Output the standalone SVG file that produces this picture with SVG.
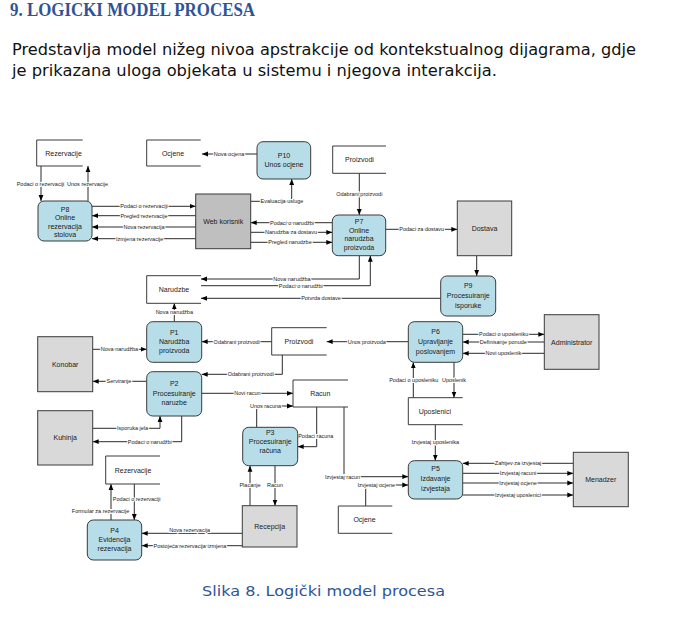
<svg xmlns="http://www.w3.org/2000/svg" width="682" height="619" viewBox="0 0 682 619">
<style>
.t{font-family:"Liberation Serif",serif;font-weight:bold;font-size:19px;fill:#2f5496}
.p{font-family:"DejaVu Sans",Verdana,sans-serif;font-size:15px;fill:#111}
.c{font-family:"DejaVu Sans",Verdana,sans-serif;font-size:14px;fill:#2f5597}
.proc{fill:#b7dde8;stroke:#3a3a3a;stroke-width:1}
.ent{fill:#d9d9d9;stroke:#3a3a3a;stroke-width:1}
.ds{fill:none;stroke:#3a3a3a;stroke-width:1}
.n{font-family:"Liberation Sans",Arial,sans-serif;font-size:7px;fill:#1a1a1a;text-anchor:middle;dominant-baseline:central}
.l{font-family:"Liberation Sans",Arial,sans-serif;font-size:5.5px;fill:#1a1a1a;text-anchor:middle;dominant-baseline:central;stroke:#fff;stroke-width:2;paint-order:stroke}
.e{fill:none;stroke:#2a2a2a;stroke-width:1;marker-end:url(#a)}
</style>
<defs>
<marker id="a" viewBox="0 0 10 10" refX="10" refY="5" markerWidth="6" markerHeight="6" orient="auto" markerUnits="userSpaceOnUse">
<path d="M0,1 L10,5 L0,9z" fill="#000"/>
</marker>
</defs>
<rect width="682" height="619" fill="#fff"/>
<text class="t" x="10" y="16" textLength="245" lengthAdjust="spacingAndGlyphs">9. LOGICKI MODEL PROCESA</text>
<text class="p" x="12" y="55" textLength="624" lengthAdjust="spacingAndGlyphs">Predstavlja model nižeg nivoa apstrakcije od kontekstualnog dijagrama, gdje</text>
<text class="p" x="12" y="76" textLength="485" lengthAdjust="spacingAndGlyphs">je prikazana uloga objekata u sistemu i njegova interakcija.</text>
<text class="c" x="202" y="596" textLength="243" lengthAdjust="spacingAndGlyphs">Slika 8. Logički model procesa</text>

<g id="connectors">
<path class="e" d="M257,154 H202"/>
<path class="e" d="M41,166 V201"/>
<path class="e" d="M88,201 V166"/>
<path class="e" d="M92,206.3 H195.7"/>
<path class="e" d="M195.7,215.7 H92"/>
<path class="e" d="M195.7,227 H92"/>
<path class="e" d="M195.7,238.7 H92"/>
<path class="e" d="M250.7,201.3 H291.7 V179"/>
<path class="e" d="M332.3,222.7 H250.7"/>
<path class="e" d="M250.7,232.3 H332.3"/>
<path class="e" d="M250.7,242.3 H332.3"/>
<path class="e" d="M359.3,173.3 V215"/>
<path class="e" d="M385.7,229.3 H457.3"/>
<path class="e" d="M476.7,255.7 V276"/>
<path class="e" d="M359.3,255.7 V279 H201"/>
<path class="e" d="M201,285.7 H370.3 V255.7"/>
<path class="e" d="M440.7,298.3 H201"/>
<path class="e" d="M174.3,321.7 V303.3"/>
<path class="e" d="M92.7,349.3 H146.7"/>
<path class="e" d="M271.7,341.7 H201.7"/>
<path class="e" d="M282.3,355 V374.3 H201.7"/>
<path class="e" d="M408.3,341.7 H326.7"/>
<path class="e" d="M146.7,381.3 H92.7"/>
<path class="e" d="M201.7,393.3 H293"/>
<path class="e" d="M92.7,428.3 H160 V416"/>
<path class="e" d="M181.7,416 V441.7 H92.7"/>
<path class="e" d="M256.7,427.3 V406 H293"/>
<path class="e" d="M316.7,407 V446.7 H297.7"/>
<path class="e" d="M344,407 V476.7 H408.3"/>
<path class="e" d="M365.7,506 V485 H408.3"/>
<path class="e" d="M435.3,424.7 V460.7"/>
<path class="e" d="M573.3,463.3 H462.7"/>
<path class="e" d="M462.7,473.3 H573.3"/>
<path class="e" d="M462.7,483 H573.3"/>
<path class="e" d="M462.7,495 H573.3"/>
<path class="e" d="M462.7,334.3 H544.3"/>
<path class="e" d="M544.3,342 H462.7"/>
<path class="e" d="M544.3,353.3 H462.7"/>
<path class="e" d="M413.3,397.7 V362.3"/>
<path class="e" d="M454,362.3 V397.7"/>
<path class="e" d="M111,520 V484"/>
<path class="e" d="M134.3,484 V520"/>
<path class="e" d="M242.3,533.3 H141.7"/>
<path class="e" d="M242.3,545.7 H141.7"/>
<path class="e" d="M250,505.7 V465.7"/>
<path class="e" d="M275,465.7 V505.7"/>
</g>

<g id="connector-labels">
<text class="l" x="229" y="154">Nova ocjena</text>
<text class="l" x="40.5" y="183.7">Podaci o rezervaciji</text>
<text class="l" x="87.5" y="183.7">Unos rezervacije</text>
<text class="l" x="144" y="206.3">Podaci o rezervaciji</text>
<text class="l" x="144" y="215.7">Pregled rezervacije</text>
<text class="l" x="144" y="227">Nova rezervacija</text>
<text class="l" x="139.7" y="238.7">Izmjena rezervacije</text>
<text class="l" x="282" y="201.3">Evaluacija usluge</text>
<text class="l" x="292" y="222.7">Podaci o narudžbi</text>
<text class="l" x="291" y="232.3">Narudzba za dostavu</text>
<text class="l" x="290" y="242.3">Pregled narudzbe</text>
<text class="l" x="359.3" y="194">Odabrani proizvodi</text>
<text class="l" x="421.7" y="229.3">Podaci za dostavu</text>
<text class="l" x="292" y="279">Nova narudžba</text>
<text class="l" x="300.8" y="285.7">Podaci o narudžbi</text>
<text class="l" x="321" y="298.3">Potvrda dostave</text>
<text class="l" x="174.3" y="312.3">Nova narudžba</text>
<text class="l" x="119.5" y="349.3">Nova narudžba</text>
<text class="l" x="236.7" y="341.7">Odabrani proizvodi</text>
<text class="l" x="250.8" y="374.3">Odabrani proizvodi</text>
<text class="l" x="366.8" y="341.7">Unos proizvoda</text>
<text class="l" x="119" y="381.3">Serviranje</text>
<text class="l" x="247.5" y="393.3">Novi racun</text>
<text class="l" x="132.5" y="428.3">Isporuka jela</text>
<text class="l" x="149.8" y="441.7">Podaci o narudžbi</text>
<text class="l" x="265.5" y="406">Unos racuna</text>
<text class="l" x="315.8" y="436">Podaci racuna</text>
<text class="l" x="342.5" y="476.7">Izvjestaj racun</text>
<text class="l" x="376.3" y="485">Izvjestaj ocjene</text>
<text class="l" x="435.3" y="442.3">Izvjestaj uposlenika</text>
<text class="l" x="518" y="463.3">Zahtjev za izvjestaj</text>
<text class="l" x="518" y="473.3">Izvjestaj racuni</text>
<text class="l" x="518" y="483">Izvjestaj ocjene</text>
<text class="l" x="518" y="495">Izvjestaj uposlenici</text>
<text class="l" x="503.7" y="334.3">Podaci o uposleniku</text>
<text class="l" x="503.3" y="342">Definisanje ponude</text>
<text class="l" x="503.3" y="353.3">Novi uposlenik</text>
<text class="l" x="413.8" y="380">Podaci o uposleniku</text>
<text class="l" x="454" y="380">Uposlenik</text>
<text class="l" x="100.5" y="510.7">Formular za rezervacije</text>
<text class="l" x="136.7" y="499">Podaci o rezervaciji</text>
<text class="l" x="189.7" y="529.5">Nova rezervacija</text>
<text class="l" x="190" y="545.7">Postojeća rezervacija izmjena</text>
<text class="l" x="250" y="485">Placanje</text>
<text class="l" x="275" y="485">Racun</text>
</g>

<g id="ds-rezervacije-top"><path class="ds" d="M82.7,140 H36.7 V166 H82.7"/><text class="n" x="63.5" y="153">Rezervacije</text></g>
<g id="ds-ocjene-top"><path class="ds" d="M200.7,140 H146.7 V166 H200.7"/><text class="n" x="173" y="153">Ocjene</text></g>
<g id="ds-proizvodi-top"><path class="ds" d="M386,146 H332.7 V173.3 H386"/><text class="n" x="359.5" y="159.5">Proizvodi</text></g>
<g id="ds-narudzbe"><path class="ds" d="M201,275.7 H146.7 V303.3 H201"/><text class="n" x="174" y="289.5">Narudzbe</text></g>
<g id="ds-proizvodi"><path class="ds" d="M326.7,327.7 H271.7 V355 H326.7"/><text class="n" x="299" y="341.4">Proizvodi</text></g>
<g id="ds-racun"><path class="ds" d="M348,380 H293 V407 H348"/><text class="n" x="320.3" y="393.5">Racun</text></g>
<g id="ds-uposlenici"><path class="ds" d="M462.7,397.7 H408.3 V424.7 H462.7"/><text class="n" x="434.8" y="411">Uposlenici</text></g>
<g id="ds-rezervacije-bottom"><path class="ds" d="M160,456 H105.7 V484 H160"/><text class="n" x="133" y="470">Rezervacije</text></g>
<g id="ds-ocjene-bottom"><path class="ds" d="M392.3,506 H338.3 V533.3 H392.3"/><text class="n" x="364.5" y="519.7">Ocjene</text></g>

<g id="web-korisnik"><rect x="195.7" y="194" width="55" height="54.7" fill="#bfbfbf" stroke="#3a3a3a"/><text class="n" x="223.2" y="221.3">Web korisnik</text></g>
<g id="dostava"><rect class="ent" x="457.3" y="201" width="54.4" height="54.7"/><text class="n" x="484.5" y="228.3">Dostava</text></g>
<g id="administrator"><rect class="ent" x="544.3" y="314.7" width="54.7" height="54.6"/><text class="n" x="571.7" y="342">Administrator</text></g>
<g id="konobar"><rect class="ent" x="37.7" y="336.7" width="55" height="55"/><text class="n" x="65.2" y="364.2">Konobar</text></g>
<g id="kuhinja"><rect class="ent" x="37.7" y="410.7" width="55" height="54.3"/><text class="n" x="65.2" y="437.8">Kuhinja</text></g>
<g id="menadzer"><rect class="ent" x="573.3" y="452.3" width="55" height="54.4"/><text class="n" x="600.8" y="479.5">Menadzer</text></g>
<g id="recepcija"><rect class="ent" x="242.3" y="505.7" width="54.7" height="41.3"/><text class="n" x="269.7" y="526.3">Recepcija</text></g>

<g id="p10"><rect class="proc" x="257" y="141.7" width="53.7" height="37.3" rx="6"/><text class="n" x="284" y="155">P10</text><text class="n" x="284" y="164.3">Unos ocjene</text></g>
<g id="p8"><rect class="proc" x="38" y="201" width="54" height="40" rx="6"/><text class="n" x="65" y="209">P8</text><text class="n" x="65" y="217.5">Online</text><text class="n" x="65" y="226">rezervacija</text><text class="n" x="65" y="234.5">stolova</text></g>
<g id="p7"><rect class="proc" x="332.3" y="215" width="53.4" height="40.7" rx="6"/><text class="n" x="359" y="221">P7</text><text class="n" x="359" y="230">Online</text><text class="n" x="359" y="238.5">narudzba</text><text class="n" x="359" y="247">proizvoda</text></g>
<g id="p9"><rect class="proc" x="440.7" y="276" width="55" height="40" rx="6"/><text class="n" x="468.2" y="285.7">P9</text><text class="n" x="468.2" y="295.7">Procesuiranje</text><text class="n" x="468.2" y="305.7">isporuke</text></g>
<g id="p1"><rect class="proc" x="146.7" y="321.7" width="55" height="40.6" rx="6"/><text class="n" x="174.2" y="332.7">P1</text><text class="n" x="174.2" y="341.7">Narudžba</text><text class="n" x="174.2" y="350.3">proizvoda</text></g>
<g id="p2"><rect class="proc" x="146.7" y="371.7" width="55" height="44.3" rx="6"/><text class="n" x="174.2" y="383.3">P2</text><text class="n" x="174.2" y="393.3">Procesuiranje</text><text class="n" x="174.2" y="402.7">naruzbe</text></g>
<g id="p6"><rect class="proc" x="408.3" y="321.7" width="54.4" height="40.6" rx="6"/><text class="n" x="435.5" y="331.7">P6</text><text class="n" x="435.5" y="341.7">Upravljanje</text><text class="n" x="435.5" y="351">poslovanjem</text></g>
<g id="p3"><rect class="proc" x="242.7" y="427.3" width="55" height="38.4" rx="6"/><text class="n" x="270.2" y="432.5">P3</text><text class="n" x="270.2" y="441.3">Procesuiranje</text><text class="n" x="270.2" y="450.7">računa</text></g>
<g id="p5"><rect class="proc" x="408.3" y="460.7" width="54.4" height="38.3" rx="6"/><text class="n" x="435.5" y="468.3">P5</text><text class="n" x="435.5" y="478.3">Izdavanje</text><text class="n" x="435.5" y="488.3">izvjestaja</text></g>
<g id="p4"><rect class="proc" x="87.3" y="520" width="54.4" height="40" rx="6"/><text class="n" x="114.5" y="530">P4</text><text class="n" x="114.5" y="539.3">Evidencija</text><text class="n" x="114.5" y="548.3">rezervacija</text></g>
</svg>
